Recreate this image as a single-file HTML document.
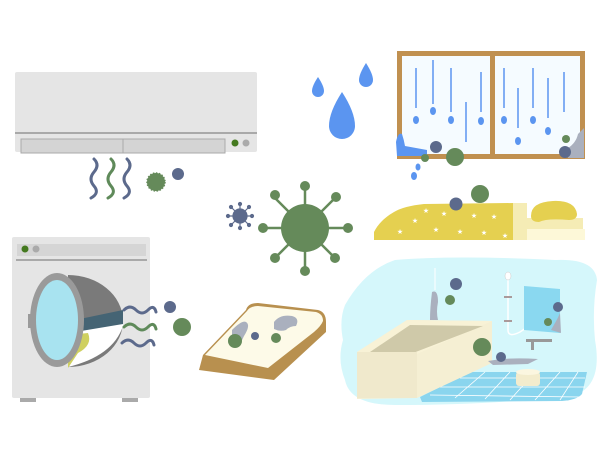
<!DOCTYPE html>
<html><head><meta charset="utf-8"><style>html,body{margin:0;padding:0;background:#fff}svg{display:block}</style></head>
<body>
<svg width="600" height="450" viewBox="0 0 600 450" xmlns="http://www.w3.org/2000/svg">
<!-- Air conditioner -->
<rect x="15" y="72" width="242" height="80" rx="2" fill="#e5e5e5"/>
<rect x="15" y="132" width="242" height="2" fill="#a9a9a9"/>
<rect x="21" y="139" width="204" height="14" fill="#d4d4d4" stroke="#aaa" stroke-width="1"/>
<line x1="123" y1="139" x2="123" y2="153" stroke="#aaa"/>
<circle cx="235" cy="143" r="3.5" fill="#44791f"/>
<circle cx="246" cy="143" r="3.5" fill="#aaa"/>
<g fill="none" stroke-width="3" stroke-linecap="round">
<path d="M94 159 q6 6 0 13 q-6 7 0 14 q6 7 -3 12" stroke="#5c6a8c"/>
<path d="M111 159 q6 6 0 13 q-6 7 0 14 q6 7 -3 12" stroke="#5f8a5a"/>
<path d="M127 159 q6 6 0 13 q-6 7 0 14 q6 7 -3 12" stroke="#5c6a8c"/>
</g>
<circle cx="156" cy="182" r="9" fill="#658a5a" stroke="#658a5a" stroke-width="1.5" stroke-dasharray="1.5 1.5"/>
<circle cx="178" cy="174" r="6" fill="#5c6a8c"/>
<!-- small virus -->
<g stroke="#5c6a8c" stroke-width="1.2" fill="#5c6a8c">
<line x1="228" y1="216" x2="252" y2="216"/><line x1="240" y1="204" x2="240" y2="228"/>
<line x1="231" y1="207" x2="249" y2="225"/><line x1="249" y1="207" x2="231" y2="225"/>
<circle cx="240" cy="216" r="7"/>
<circle cx="228" cy="216" r="1.5"/><circle cx="252" cy="216" r="1.5"/><circle cx="240" cy="204" r="1.5"/><circle cx="240" cy="228" r="1.5"/>
<circle cx="231" cy="207" r="1.5"/><circle cx="249" cy="225" r="1.5"/><circle cx="249" cy="207" r="1.5"/><circle cx="231" cy="225" r="1.5"/>
</g>
<!-- big virus -->
<g stroke="#658a5a" stroke-width="2.5" fill="#658a5a">
<line x1="263" y1="228" x2="348" y2="228"/><line x1="305" y1="186" x2="305" y2="271"/>
<line x1="275" y1="198" x2="335" y2="258"/><line x1="335" y1="198" x2="275" y2="258"/>
</g>
<g fill="#658a5a">
<circle cx="305" cy="228" r="24"/>
<circle cx="263" cy="228" r="5"/><circle cx="348" cy="228" r="5"/><circle cx="305" cy="186" r="5"/><circle cx="305" cy="271" r="5"/>
<circle cx="275" cy="195" r="5"/><circle cx="336" cy="197" r="5"/><circle cx="275" cy="258" r="5"/><circle cx="335" cy="258" r="5"/>
</g>
<!-- drops -->
<g fill="#5b95f0">
<path d="M318 77 q-6 9 -6 14 a6 6 0 0 0 12 0 q0 -5 -6 -14z"/>
<path d="M366 63 q-7 11 -7 17 a7 7 0 0 0 14 0 q0 -6 -7 -17z"/>
<path d="M342 92 q-13 20 -13 34 a13 13 0 0 0 26 0 q0 -14 -13 -34z"/>
</g>
<!-- window -->
<rect x="399.5" y="53.5" width="183" height="103" fill="#f5fbff" stroke="#c09050" stroke-width="5"/>
<rect x="490" y="53" width="5" height="104" fill="#c09050"/>
<g stroke="#5b95f0" stroke-width="1.5">
<line x1="416" y1="68" x2="416" y2="108"/><line x1="433" y1="60" x2="433" y2="104"/><line x1="451" y1="68" x2="451" y2="112"/>
<line x1="466" y1="102" x2="466" y2="142"/><line x1="481" y1="72" x2="481" y2="112"/>
<line x1="504" y1="68" x2="504" y2="108"/><line x1="518" y1="88" x2="518" y2="128"/><line x1="533" y1="68" x2="533" y2="108"/>
<line x1="548" y1="78" x2="548" y2="118"/><line x1="564" y1="72" x2="564" y2="112"/>
</g>
<g fill="#5b95f0">
<ellipse cx="416" cy="120" rx="3" ry="4"/><ellipse cx="433" cy="111" rx="3" ry="4"/><ellipse cx="451" cy="120" rx="3" ry="4"/>
<ellipse cx="481" cy="121" rx="3" ry="4"/><ellipse cx="504" cy="120" rx="3" ry="4"/><ellipse cx="518" cy="141" rx="3" ry="4"/>
<ellipse cx="533" cy="120" rx="3" ry="4"/><ellipse cx="548" cy="131" rx="3" ry="4"/>
<path d="M396 142 q2 -10 6 -8 q2 6 3 12 l22 4 l0 6 l-30 0 z"/>
<ellipse cx="418" cy="167" rx="2.5" ry="3.5"/><ellipse cx="414" cy="176" rx="3" ry="4"/>
</g>
<path d="M568 158 l0 -10 q8 -5 10 -14 l6 -6 l0 30 z" fill="#aab0be"/>
<circle cx="436" cy="147" r="6" fill="#5c6a8c"/>
<circle cx="425" cy="158" r="4" fill="#658a5a"/>
<circle cx="455" cy="157" r="9" fill="#658a5a"/>
<circle cx="565" cy="152" r="6" fill="#5c6a8c"/>
<circle cx="566" cy="139" r="4" fill="#658a5a"/>
<!-- bed -->
<path d="M374 232 q6 -12 20 -20 q10 -6 30 -8 l90 -1 l0 37 l-140 0 z" fill="#e5d050"/>
<rect x="513" y="203" width="14" height="37" fill="#f5ecb5"/>
<rect x="527" y="218" width="56" height="11" fill="#f5ecb5"/>
<rect x="527" y="229" width="58" height="11" fill="#fdf8d8"/>
<path d="M531 216 q0 -14 22 -15 q22 -1 24 13 q0 6 -8 6 q-22 -2 -30 2 q-8 0 -8 -6z" fill="#e5d050"/>
<g fill="#fff" font-size="7" font-family="DejaVu Sans" text-anchor="middle">
<text x="426" y="213">★</text><text x="444" y="216">★</text><text x="474" y="218">★</text><text x="494" y="219">★</text>
<text x="415" y="223">★</text><text x="400" y="234">★</text><text x="436" y="232">★</text><text x="460" y="234">★</text><text x="484" y="235">★</text><text x="505" y="238">★</text>
</g>
<circle cx="456" cy="204" r="6.5" fill="#5c6a8c"/>
<circle cx="480" cy="194" r="9" fill="#658a5a"/>
<!-- washing machine -->
<rect x="12" y="237" width="138" height="161" rx="2" fill="#e5e5e5"/>
<rect x="17" y="244" width="129" height="12" fill="#d5d5d5"/>
<rect x="16" y="259" width="131" height="2" fill="#a9a9a9"/>
<circle cx="25" cy="249" r="3.5" fill="#44791f"/>
<circle cx="36" cy="249" r="3.5" fill="#aaa"/>
<rect x="20" y="398" width="16" height="4" fill="#aaa"/>
<rect x="122" y="398" width="16" height="4" fill="#aaa"/>
<path d="M68 275 a55 46 0 0 1 55 45 a55 46 0 0 1 -55 47 z" fill="#7a7a7a"/>
<path d="M72 325 q30 -8 51 -13 l0 14 q-10 30 -55 41 z" fill="#fff"/>
<path d="M75 320 l48 -10 l0 14 l-48 8z" fill="#456474"/>
<path d="M68 335 l20 -2 q5 12 -10 20 l-10 15z" fill="#cfd060"/>
<ellipse cx="57" cy="320" rx="27" ry="47" fill="#9a9a9a"/>
<ellipse cx="57" cy="320" rx="21" ry="40" fill="#a8e3f0"/>
<rect x="28" y="314" width="4" height="14" fill="#9a9a9a"/>
<g fill="none" stroke-width="3" stroke-linecap="round">
<path d="M124 310 q6 -6 12 0 q6 6 12 0 q6 -6 8 2" stroke="#5c6a8c"/>
<path d="M124 327 q6 -6 12 0 q6 6 12 0 q6 -6 8 2" stroke="#5f8a5a"/>
<path d="M122 343 q6 -6 12 0 q6 6 12 0 q6 -6 8 2" stroke="#5c6a8c"/>
</g>
<circle cx="170" cy="307" r="6" fill="#5c6a8c"/>
<circle cx="182" cy="327" r="9" fill="#658a5a"/>
<!-- bread -->
<path d="M203 355 l43 -45 q2 -7 12 -7 l60 7 q8 2 8 12 l0 10 l-52 48 l-75 -10 z" fill="#b8904f"/>
<path d="M205 355 l42 -44 q3 -5 11 -5 l58 6 q7 2 7 9 q-2 5 -9 11 l-46 36 z" fill="#fdfae8"/>
<path d="M232 330 q10 -10 14 -8 q5 3 -2 14 q-4 8 -4 10 l-8 -2z" fill="#aab0be"/>
<path d="M274 322 q6 -8 18 -6 q8 2 4 10 q-6 0 -10 4 q-6 2 -12 -1z" fill="#aab0be"/>
<circle cx="235" cy="341" r="7" fill="#658a5a"/>
<circle cx="255" cy="336" r="4" fill="#5c6a8c"/>
<circle cx="276" cy="338" r="5" fill="#658a5a"/>
<!-- bathroom -->
<path d="M345 305 q20 -35 50 -45 q60 -5 160 0 q40 -2 42 20 q-5 30 -2 60 q8 45 -20 55 q-80 10 -180 10 q-45 0 -50 -25 q-8 -20 -2 -40 q-4 -20 2 -35z" fill="#d5f7fb"/>
<path d="M420 397 l50 -25 l80 0 l37 0 l-5 22 q-5 6 -20 7 l-140 1z" fill="#8ad5ee"/>
<g stroke="#fff" stroke-width="0.8" fill="none">
<line x1="440" y1="387" x2="585" y2="387"/><line x1="460" y1="378" x2="585" y2="378"/><line x1="430" y1="395" x2="580" y2="397"/>
<line x1="485" y1="372" x2="455" y2="398"/><line x1="510" y1="372" x2="485" y2="399"/><line x1="535" y1="372" x2="510" y2="400"/>
<line x1="560" y1="372" x2="535" y2="400"/><line x1="578" y1="372" x2="560" y2="400"/>
</g>
<path d="M357 352 l50 -32 l85 1 l0 42 l-75 35 l-60 1z" fill="#f5efd3"/>
<path d="M357 352 l50 -32 l85 1 l-75 33z" fill="#f8f2d6"/>
<path d="M370 352 l40 -27 l73 1 l-70 27z" fill="#cfc9a9"/>
<rect x="357" y="352" width="60" height="46" fill="#f0e9cc"/>
<line x1="435" y1="268" x2="435" y2="290" stroke="#fff" stroke-width="1"/>
<path d="M432 292 q6 -3 6 10 q-2 10 0 18 l-8 0 q0 -12 2 -28z" fill="#aab0be"/>
<circle cx="456" cy="284" r="6" fill="#5c6a8c"/>
<circle cx="450" cy="300" r="5" fill="#658a5a"/>
<circle cx="482" cy="347" r="9" fill="#658a5a"/>
<path d="M508 278 l0 52 q0 8 12 2 l12 -8" stroke="#fff" stroke-width="1.5" fill="none"/>
<ellipse cx="508" cy="276" rx="3" ry="4" fill="#fff" stroke="#ccc" stroke-width="0.5"/>
<rect x="504" y="296" width="8" height="2" fill="#aa9a9a"/><rect x="504" y="320" width="8" height="2" fill="#aa9a9a"/>
<path d="M524 286 l36 3 l0 44 l-36 -3z" fill="#8ad8f0"/>
<path d="M555 323 q3 -5 5 -10 l1 20 l-10 -3z" fill="#aab0be"/>
<circle cx="558" cy="307" r="5" fill="#5c6a8c"/>
<circle cx="548" cy="322" r="4" fill="#658a5a"/>
<rect x="526" y="339" width="26" height="3" fill="#999"/>
<rect x="531" y="340" width="3" height="10" fill="#999"/>
<path d="M488 361 q20 -4 50 -2 l-10 5 l-35 1z" fill="#aab0be"/>
<circle cx="501" cy="357" r="5" fill="#5c6a8c"/>
<rect x="516" y="372" width="24" height="14" rx="3" fill="#f3eccd"/>
<ellipse cx="528" cy="372" rx="12" ry="3" fill="#fbf6e0"/>
</svg>
</body></html>
